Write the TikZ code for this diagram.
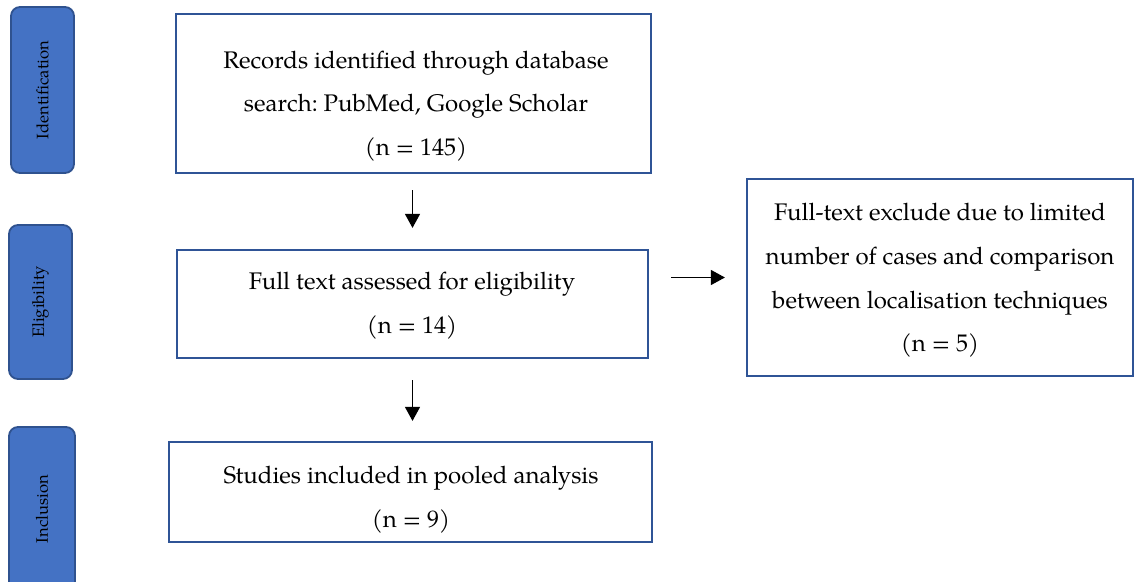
\documentclass[tikz,border=0pt]{standalone}
\usepackage{fontspec}
\setmainfont{texgyrepagella}[Extension=.otf, UprightFont=*-regular, BoldFont=*-bold, ItalicFont=*-italic, BoldItalicFont=*-bolditalic]
\usetikzlibrary{arrows.meta}
\definecolor{frameblue}{HTML}{2F5496}
\definecolor{phasefill}{HTML}{4472C4}
\definecolor{phaseedge}{HTML}{2F528F}
\frenchspacing
\begin{document}
\begin{tikzpicture}[x=0.5pt,y=-0.5pt,
  stagebox/.style={draw=frameblue, line width=1.1pt, inner sep=0pt},
  phase/.style={draw=phaseedge, fill=phasefill, line width=0.9pt, rounded corners=4.5pt,
    inner sep=0pt, rotate=90, font=\fontsize{8.3}{9}\selectfont},
  bodytext/.style={align=center, font=\fontsize{12}{21.9}\selectfont, inner sep=0pt},
  flow/.style={-{Triangle[length=7pt,width=7.5pt]}, line width=0.65pt}]
\useasboundingbox (0,0) rectangle (1134,582);
\clip (0,0) rectangle (1134,582);

% phase tabs on the left
\node[phase, minimum width=83pt, minimum height=31.5pt] (idf) at (42.5,90) {Identification};
\node[phase, minimum width=77pt, minimum height=31.5pt] (elg) at (40.5,302) {Eligibility};
\node[phase, minimum width=82pt, minimum height=33pt] (inc) at (42,509) {Inclusion};

% stage boxes
\node[stagebox, minimum width=237.5pt, minimum height=79.5pt] (rec) at (413.5,93.5) {};
\node[stagebox, minimum width=235.5pt, minimum height=54pt] (full) at (412.5,304) {};
\node[stagebox, minimum width=241.5pt, minimum height=50pt] (pool) at (410.5,492) {};
\node[stagebox, minimum width=193pt, minimum height=98.5pt] (excl) at (940,277.5) {};

% box texts
\node[bodytext] (recT) at (416,106) {Records identified through database\\search: PubMed, Google Scholar\\(n = 145)};
\node[bodytext] (fullT) at (412,305.5) {Full text assessed for eligibility\\(n = 14)};
\node[bodytext] (poolT) at (411,499.5) {Studies included in pooled analysis\\(n = 9)};
\node[bodytext] (exclT) at (940,280.5) {Full-text exclude due to limited\\number of cases and comparison\\between localisation techniques\\(n = 5)};

% flow arrows
\draw[flow, shorten <=8pt, shorten >=10.5pt] (rec.south -| full.north) -- (full.north);
\draw[flow, shorten <=10.5pt, shorten >=10pt] (full.south) -- (full.south |- pool.north);
\draw[flow, shorten <=11pt, shorten >=10.5pt] (full.east |- excl.west) -- (excl.west);
\end{tikzpicture}
\end{document}
